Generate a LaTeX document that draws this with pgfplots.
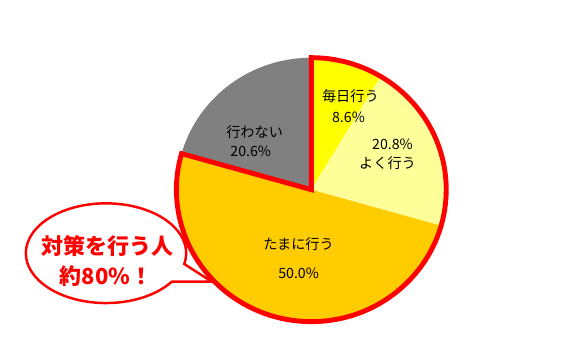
\documentclass[border=0pt]{standalone}
\usepackage{pgfplots}
\usepackage{pgfplotstable}
\pgfplotsset{compat=1.18}
\usepackage{fontspec}
\setmainfont{Noto Sans CJK JP}

\definecolor{everyday}{HTML}{FFFF00}
\definecolor{often}{HTML}{FFFF99}
\definecolor{sometimes}{HTML}{FFCC00}
\definecolor{never}{HTML}{808080}
\definecolor{outline}{HTML}{FF0000}

% shares in percent: 毎日行う, よく行う, たまに行う, 行わない
\pgfplotstableread{
share
8.6
20.8
50.0
20.6
}\piedata

\begin{document}
\pgfplotstablegetelem{0}{share}\of\piedata \let\sA\pgfplotsretval
\pgfplotstablegetelem{1}{share}\of\piedata \let\sB\pgfplotsretval
\pgfplotstablegetelem{2}{share}\of\piedata \let\sC\pgfplotsretval
\pgfplotstablegetelem{3}{share}\of\piedata \let\sD\pgfplotsretval
% slice boundaries, clockwise from 12 o'clock
\pgfmathsetmacro\aA{90}
\pgfmathsetmacro\aB{\aA-3.6*\sA}
\pgfmathsetmacro\aC{\aB-3.6*\sB}
\pgfmathsetmacro\aD{\aC-3.6*\sC}
\pgfmathsetmacro\aE{\aD-3.6*\sD}
\newcommand{\slice}[3]{%
  \fill[#1] (axis cs:305,162) -- ++(#2:138pt and 135pt)
    arc[start angle=#2, end angle=#3, x radius=138pt, y radius=135pt] -- cycle;}
\begin{tikzpicture}
\begin{axis}[
  width=587pt, height=356pt, scale only axis,
  xmin=0, xmax=587, ymin=0, ymax=356,
  hide axis, clip=false,
]
\coordinate (ll) at (axis cs:0,0);
\coordinate (ur) at (axis cs:587,356);
\slice{everyday}{\aA}{\aB}
\slice{often}{\aB}{\aC}
\slice{sometimes}{\aC}{\aD}
\slice{never}{\aD}{\aE}
% outline around everyone who takes measures
\draw[outline, line width=5pt, line join=miter]
  (axis cs:305,162) -- ++(\aA:138pt and 135pt)
  arc[start angle=\aA, end angle=\aD, x radius=138pt, y radius=135pt] -- cycle;

\begin{scope}[font=\fontsize{14.5}{16}\selectfont, text=black]
\node at (axis cs:345,258) {毎日行う};
\node at (axis cs:343,236) {8.6\%};
\node at (axis cs:388,208) {20.8\%};
\node at (axis cs:383,189) {よく行う};
\node at (axis cs:247,221) {行わない};
\node at (axis cs:243,201) {20.6\%};
\node at (axis cs:292,106) {たまに行う};
\node at (axis cs:292,76) {50.0\%};
\end{scope}

% speech bubble
\draw[outline, line width=2.5pt, fill=white, line join=miter]
  (axis cs:95,97) ++(-12.5:82pt and 51pt)
  arc[start angle=-12.5, end angle=325.3, x radius=82pt, y radius=51pt]
  -- (axis cs:203,68) -- cycle;
\begin{scope}[font=\fontsize{22.5}{24}\selectfont\bfseries, text=outline]
\node at (axis cs:97,104) {対策を行う人};
\node at (axis cs:95,74) {約80\%！};
\end{scope}
\end{axis}
\pgfresetboundingbox
\path (ll) rectangle (ur);
\end{tikzpicture}
\end{document}
